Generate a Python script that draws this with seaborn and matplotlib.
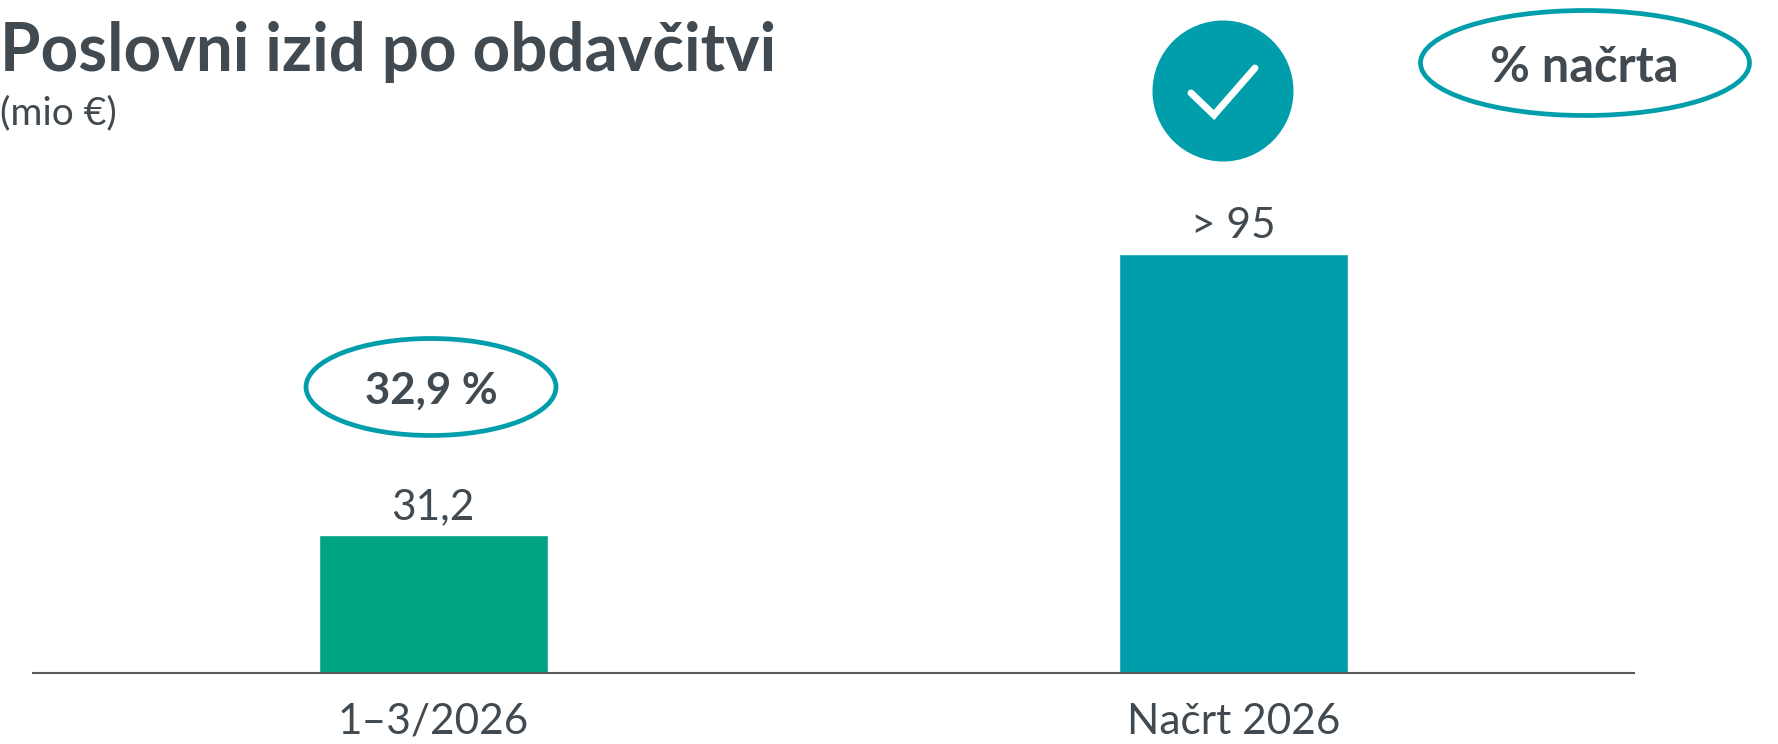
import matplotlib
matplotlib.use("Agg")
import matplotlib.pyplot as plt
import pandas as pd
import seaborn as sns
from matplotlib.patches import Ellipse
from matplotlib.transforms import Affine2D

# Data
categories = ["1–3/2026", "Načrt 2026"]
values = [31.2, 95]
value_labels = ["31,2", "> 95"]
bar_colors = ["#00A383", "#009EAB"]
title = "Poslovni izid po obdavčitvi"
subtitle = "(mio €)"
share_label = "32,9 %"
legend_label = "% načrta"

TEAL = "#009EAB"
TEXT = "#414A50"
W, H = 1778, 744

sns.set_theme(style="white")
plt.rcParams["font.family"] = ["Lato", "DejaVu Sans"]

fig = plt.figure(figsize=(W / 100, H / 100), dpi=100)
ax = fig.add_axes([33 / W, (H - 673) / H, (1634 - 33) / W, 673 / H])

df = pd.DataFrame({"cat": categories, "val": values})
sns.barplot(data=df, x="cat", y="val", hue="cat", palette=bar_colors,
            width=0.286, dodge=False, legend=False, saturation=1, ax=ax)
ax.set_xlim(-0.5, 1.5)
ax.set_ylim(0, 152.6)
ax.set_xlabel("")
ax.set_ylabel("")
ax.set_yticks([])
ax.tick_params(axis="x", length=0, pad=21.5, labelsize=30.5, labelcolor=TEXT)
ax.patch.set_alpha(0)
sns.despine(ax=ax, left=True)
ax.spines["bottom"].set_color("#555B5F")
ax.spines["bottom"].set_linewidth(1.5)

for container, label in zip(ax.containers, value_labels):
    ax.bar_label(container, labels=[label], padding=6.5, fontsize=30.5, color=TEXT)

# Everything around the bars is placed in image pixels (y downwards)
px = Affine2D().scale(1, -1).translate(0, H)


def oval(cx, cy, w, h):
    fig.add_artist(Ellipse((cx, cy), w, h, transform=px, facecolor="white",
                           edgecolor=TEAL, linewidth=3.4))


fig.text(0, 71, title, transform=px, fontsize=47.2, fontweight="bold", color=TEXT,
         ha="left", va="baseline")
fig.text(0, 124, subtitle, transform=px, fontsize=28, color=TEXT, ha="left", va="baseline")

oval(431, 387, 250, 97)
fig.text(431, 404, share_label, transform=px, fontsize=31.5, fontweight="bold", color=TEXT,
         ha="center", va="baseline")

oval(1585, 63, 329, 105)
fig.text(1584, 82, legend_label, transform=px, fontsize=35, fontweight="bold", color=TEXT,
         ha="center", va="baseline")

# Check badge
fig.add_artist(Ellipse((1223, 91), 141, 141, transform=px, facecolor=TEAL, edgecolor="none"))
fig.add_artist(plt.Line2D([1191, 1214, 1255], [93, 115, 68], transform=px, color="white",
                          linewidth=5, solid_capstyle="round", solid_joinstyle="miter"))

fig.savefig("out.png", dpi=100)
